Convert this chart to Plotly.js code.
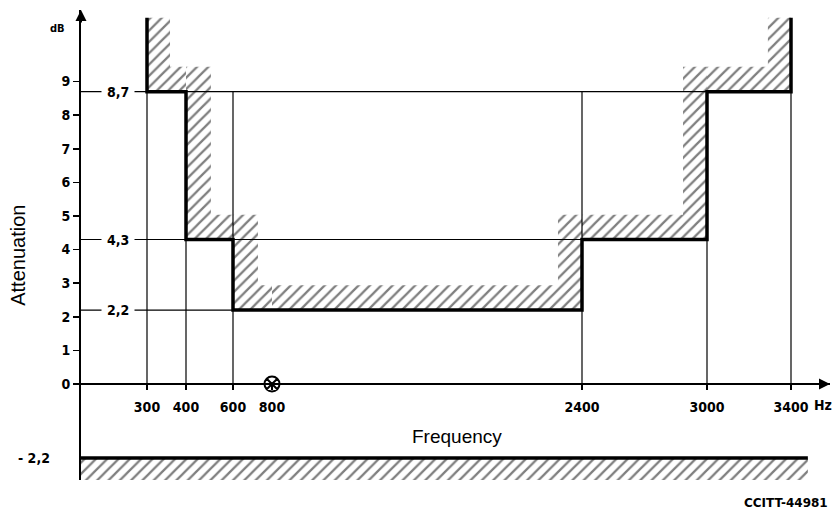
<!DOCTYPE html>
<html>
<head>
<meta charset="utf-8">
<script src="https://cdn.plot.ly/plotly-3.0.1.min.js"></script>
<style>html,body{margin:0;padding:0;background:#fff;}#chart{width:838px;height:513px;}</style>
</head>
<body>
<div id="chart"></div>
<script>
// ---- data ----
const freqTicks = [300, 400, 600, 800, 2400, 3000, 3400];      // Hz tick labels
const gridFreqs = [300, 400, 600, 2400, 3000, 3400];          // thin verticals
const maskEdges = [300, 400, 600, 2400, 3000, 3400];          // band edges (Hz)
const maskUpper = [8.7, 4.3, 2.2, 4.3, 8.7];                  // upper limit per band (dB)
const maskTop = 10.9;                                          // open end of outer verticals (dB)
const lowerLimit = -2.2;                                       // lower limit (dB)
const lowerEnd = 3480;                                         // end of lower limit line (Hz)
const refFreq = 800;                                           // reference frequency (Hz)
const levels = [8.7, 4.3, 2.2];
const levelLabels = ['8,7', '4,3', '2,2'];
const levelEnd = [3400, 3000, 2400];
const yTicks = [0, 1, 2, 3, 4, 5, 6, 7, 8, 9];

// ---- axis layout: the original frequency axis is not to scale, so it is
// built from several linear Plotly axes placed side by side ----
const segEdges = [0, 300, 400, 600, 800, 2400, 3000, 3400, 3586]; // Hz at segment breaks
const segPix = [81, 147, 186, 233, 272, 582, 707, 791, 830];       // where each break sits (px)
const PLOT_L = 81, PLOT_W = 749;
const YR = [-2.857, 11.13];
const hatchDX = [59, 106, 128, 124, 115, 110];   // hatch band width at each edge (Hz)
const DY = 0.74;                                  // hatch band height (dB)
const numFont = {family: 'DejaVu Sans Condensed, Liberation Sans Narrow, Arial Narrow, sans-serif', size: 14, color: '#000', weight: 'bold'};
const txtFont = {family: 'Liberation Sans, Arial, Helvetica, sans-serif', size: 19, color: '#000'};

// mask path
const mx = [maskEdges[0]], my = [maskTop];
for (let i = 0; i < maskUpper.length; i++) {
  mx.push(maskEdges[i], maskEdges[i + 1]);
  my.push(maskUpper[i], maskUpper[i]);
}
mx.push(maskEdges[maskEdges.length - 1]); my.push(maskTop);

// outer (hatched) boundary: offset to the forbidden side
const edgeSide = maskEdges.map((e, j) => {
  const left = j === 0 ? maskTop : maskUpper[j - 1];
  const right = j === maskEdges.length - 1 ? maskTop : maskUpper[j];
  return right < left ? 1 : -1;
});
const outX = j => maskEdges[j] + edgeSide[j] * hatchDX[j];
const ox = [outX(0)], oy = [maskTop];
for (let i = 0; i < maskUpper.length; i++) {
  ox.push(outX(i), outX(i + 1));
  oy.push(maskUpper[i] + DY, maskUpper[i] + DY);
}
const last = maskEdges.length - 1;
ox.push(outX(last)); oy.push(maskTop);
const hx = mx.concat(ox.slice().reverse());
const hy = my.concat(oy.slice().reverse());

const pattern = {shape: '/', fgcolor: '#000', bgcolor: 'rgba(255,255,255,0)', size: 8, solidity: 0.28, fillmode: 'overlay'};
const x0 = segEdges[0];

// thin verticals
const gx = [], gy = [];
gridFreqs.forEach(f => { gx.push(f, f, null); gy.push(0, levels[0], null); });
// thin horizontals
const lx = [], ly = [];
levels.forEach((l, i) => { lx.push(x0, levelEnd[i], null); ly.push(l, l, null); });

const baseTraces = [
  {x: hx, y: hy, mode: 'lines', fill: 'toself', fillcolor: 'rgba(255,255,255,0)', fillpattern: pattern, line: {width: 0}},
  {x: gx, y: gy, mode: 'lines', line: {color: '#000', width: 1.2}},
  {x: lx, y: ly, mode: 'lines', line: {color: '#000', width: 1.2}},
  {x: mx, y: my, mode: 'lines', line: {color: '#000', width: 3.5}}
];

const traces = [];
const layout = {
  width: 838, height: 513,
  margin: {l: 81, r: 8, t: 10, b: 33},
  paper_bgcolor: '#fff', plot_bgcolor: 'rgba(0,0,0,0)',
  showlegend: false,
  hovermode: false
};
const axPos = (0 - YR[0]) / (YR[1] - YR[0]);
const nSeg = segEdges.length - 1;
for (let k = 0; k < nSeg; k++) {
  const r0 = segEdges[k], r1 = segEdges[k + 1];
  const id = k === 0 ? '' : String(k + 1);
  baseTraces.forEach(t => traces.push(Object.assign({}, t, {xaxis: 'x' + id, yaxis: 'y'})));
  if (refFreq >= r0 && refFreq < r1) {
    traces.push({x: [refFreq], y: [0], xaxis: 'x' + id, yaxis: 'y', mode: 'markers', cliponaxis: false,
      marker: {symbol: 'circle-x-open', size: 15, color: '#000', line: {width: 2, color: '#000'}}});
  }
  const tv = freqTicks.filter(f => f >= r0 && f < r1);
  layout['xaxis' + id] = {
    domain: [(segPix[k] - PLOT_L) / PLOT_W, (segPix[k + 1] - PLOT_L) / PLOT_W],
    range: [r0, r1], anchor: 'free', position: axPos,
    tickvals: tv, ticktext: tv.map(String), tickangle: 0,
    ticks: 'outside', ticklen: 5, tickwidth: 1.5, tickcolor: '#000',
    showline: true, linewidth: 2, linecolor: '#000',
    showgrid: false, zeroline: false, tickfont: numFont, ticklabelstandoff: 5
  };
}
// full-width hidden axis for the lower limit band (spans every segment)
const fid = String(nSeg + 1);
layout['xaxis' + fid] = {domain: [0, 1], range: [segEdges[0], segEdges[nSeg]], anchor: 'free', position: axPos, visible: false};
traces.push(
  {x: [x0, lowerEnd, lowerEnd, x0], y: [lowerLimit, lowerLimit, lowerLimit - DY, lowerLimit - DY], xaxis: 'x' + fid, yaxis: 'y', mode: 'lines', fill: 'toself', fillcolor: 'rgba(255,255,255,0)', fillpattern: pattern, line: {width: 0}},
  {x: [x0, lowerEnd], y: [lowerLimit, lowerLimit], xaxis: 'x' + fid, yaxis: 'y', mode: 'lines', line: {color: '#000', width: 3.5}}
);
layout.yaxis = {
  range: YR, anchor: 'x', tickvals: yTicks, ticktext: yTicks.map(String),
  ticks: 'outside', ticklen: 6, tickwidth: 1.5, tickcolor: '#000',
  showline: true, linewidth: 2, linecolor: '#000',
  showgrid: false, zeroline: false, tickfont: numFont
};

const annotations = [];
levels.forEach((l, i) => annotations.push({xref: 'paper', x: 0.0494, xanchor: 'center', yref: 'y', y: l, yanchor: 'middle', text: levelLabels[i], showarrow: false, font: numFont, bgcolor: '#fff', borderpad: 5}));
annotations.push(
  {xref: 'paper', x: 0, xanchor: 'right', xshift: -29, yref: 'y', y: lowerLimit, yanchor: 'middle', text: '- 2,2', showarrow: false, font: numFont},
  {xref: 'paper', x: 0, xanchor: 'center', xshift: -24, yref: 'paper', y: 0.9617, yanchor: 'middle', text: 'dB', showarrow: false, font: Object.assign({}, numFont, {size: 11})},
  {xref: 'paper', x: 1, xanchor: 'right', xshift: 4, yref: 'y', y: 0, yanchor: 'middle', yshift: -21, text: 'Hz', showarrow: false, font: numFont},
  {xref: 'paper', x: (457 - PLOT_L) / PLOT_W, xanchor: 'center', yref: 'paper', y: 0.0936, yanchor: 'middle', text: 'Frequency', showarrow: false, font: txtFont},
  {xref: 'paper', x: (18 - PLOT_L) / PLOT_W, xanchor: 'center', yref: 'paper', y: 0.477, yanchor: 'middle', text: 'Attenuation', textangle: -90, showarrow: false, font: Object.assign({}, txtFont, {size: 20})},
  {xref: 'paper', x: 1, xanchor: 'right', yref: 'paper', y: -0.049, yanchor: 'middle', text: 'CCITT-44981', showarrow: false, font: {family: 'DejaVu Sans, sans-serif', size: 12, color: '#000', weight: 'bold'}},
  {xref: 'paper', x: 0, yref: 'paper', y: 1, ax: 0, ay: 14, text: '', showarrow: true, arrowhead: 2, arrowsize: 1.1, arrowwidth: 2, arrowcolor: '#000'},
  {xref: 'paper', x: 1, yref: 'y', y: 0, ax: -14, ay: 0, text: '', showarrow: true, arrowhead: 2, arrowsize: 1.1, arrowwidth: 2, arrowcolor: '#000'}
);
layout.annotations = annotations;

Plotly.newPlot('chart', traces, layout, {displayModeBar: false, staticPlot: true});
</script>
</body>
</html>
